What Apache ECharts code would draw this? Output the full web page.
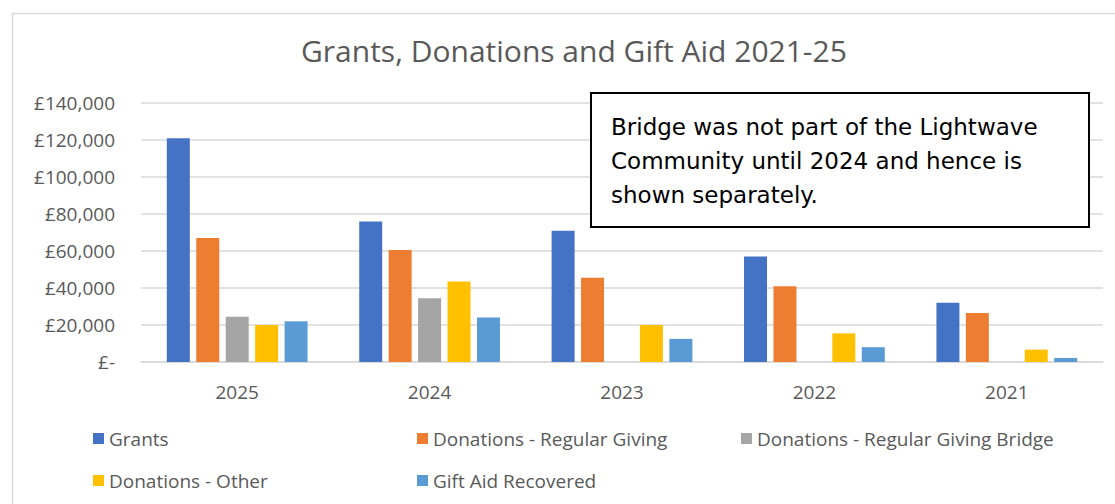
<!DOCTYPE html>
<html><head><meta charset="utf-8">
<script src="https://cdn.jsdelivr.net/npm/echarts@6/dist/echarts.min.js"></script>
<style>html,body{margin:0;padding:0;background:#fff}#c{width:1115px;height:504px}</style>
</head><body><div id="c"></div>
<script>
const categories = ['2025', '2024', '2023', '2022', '2021'];
const grants = [121000, 76000, 71000, 57000, 32000];
const regularGiving = [67000, 60500, 45500, 41000, 26500];
const regularGivingBridge = [24500, 34500, null, null, null];
const donationsOther = [20000, 43500, 20000, 15500, 6700];
const giftAid = [22000, 24000, 12500, 8000, 2200];
const seriesNames = ['Grants', 'Donations - Regular Giving', 'Donations - Regular Giving Bridge', 'Donations - Other', 'Gift Aid Recovered'];
const seriesData = [grants, regularGiving, regularGivingBridge, donationsOther, giftAid];
const colors = ['#4472C4', '#ED7D31', '#A5A5A5', '#FFC000', '#5B9BD5'];
const yTicks = [0, 20000, 40000, 60000, 80000, 100000, 120000, 140000];
const note = ['Bridge was not part of the Lightwave', 'Community until 2024 and hence is', 'shown separately.'];

const FONT = 'Open Sans';
const chart = echarts.init(document.getElementById('c'), null, {renderer: 'svg'});
const legendPos = [[88, 424], [412, 424], [736, 424], [88, 466], [412, 466]];
const legends = seriesNames.map((n, i) => ({
  data: [n], left: legendPos[i][0], top: legendPos[i][1],
  icon: 'rect', itemWidth: 11, itemHeight: 11, itemGap: 0,
  textStyle: {fontFamily: FONT, fontSize: 19, color: '#595959', padding: [0, 0, 0, 0]},
  selectedMode: false
}));
chart.setOption({
  animation: false,
  color: colors,
  title: {
    text: 'Grants, Donations and Gift Aid 2021-25', left: 296, top: 30,
    textStyle: {fontFamily: FONT, fontSize: 30, fontWeight: 'normal', color: '#595959'}
  },
  legend: legends,
  grid: {left: 141, right: 12, top: 103, bottom: 142, containLabel: false},
  xAxis: {
    type: 'category', data: categories,
    axisLine: {lineStyle: {color: '#d9d9d9', width: 1.5}},
    axisTick: {show: false},
    axisLabel: {fontFamily: FONT, fontSize: 19, color: '#595959', margin: 20}
  },
  yAxis: {
    type: 'value', min: 0, max: 140000, interval: 20000,
    axisLine: {show: false}, axisTick: {show: false},
    splitLine: {lineStyle: {color: '#d9d9d9', width: 1.5}},
    axisLabel: {
      fontFamily: FONT, fontSize: 19, color: '#595959', margin: 26,
      formatter: v => yTicks.includes(v) ? (v === 0 ? '£-' : '£' + v.toLocaleString('en-GB')) : ''
    }
  },
  series: seriesData.map((d, i) => ({
    name: seriesNames[i], type: 'bar', data: d,
    barWidth: 23, barGap: '28%'
  })),
  graphic: [
    {type: 'rect', left: 10, top: 11, shape: {width: 1120, height: 510},
     style: {fill: 'none', stroke: '#d9d9d9', lineWidth: 1.5}, z: -1, silent: true},
    {type: 'rect', left: 590, top: 92, shape: {width: 498, height: 134},
     style: {fill: '#ffffff', stroke: '#000000', lineWidth: 2}, z: 10},
    {type: 'text', left: 611, top: 110, z: 11,
     style: {text: note.join('\n'), font: '23px "DejaVu Sans"', fill: '#000000', lineHeight: 34}}
  ]
});
</script></body></html>
